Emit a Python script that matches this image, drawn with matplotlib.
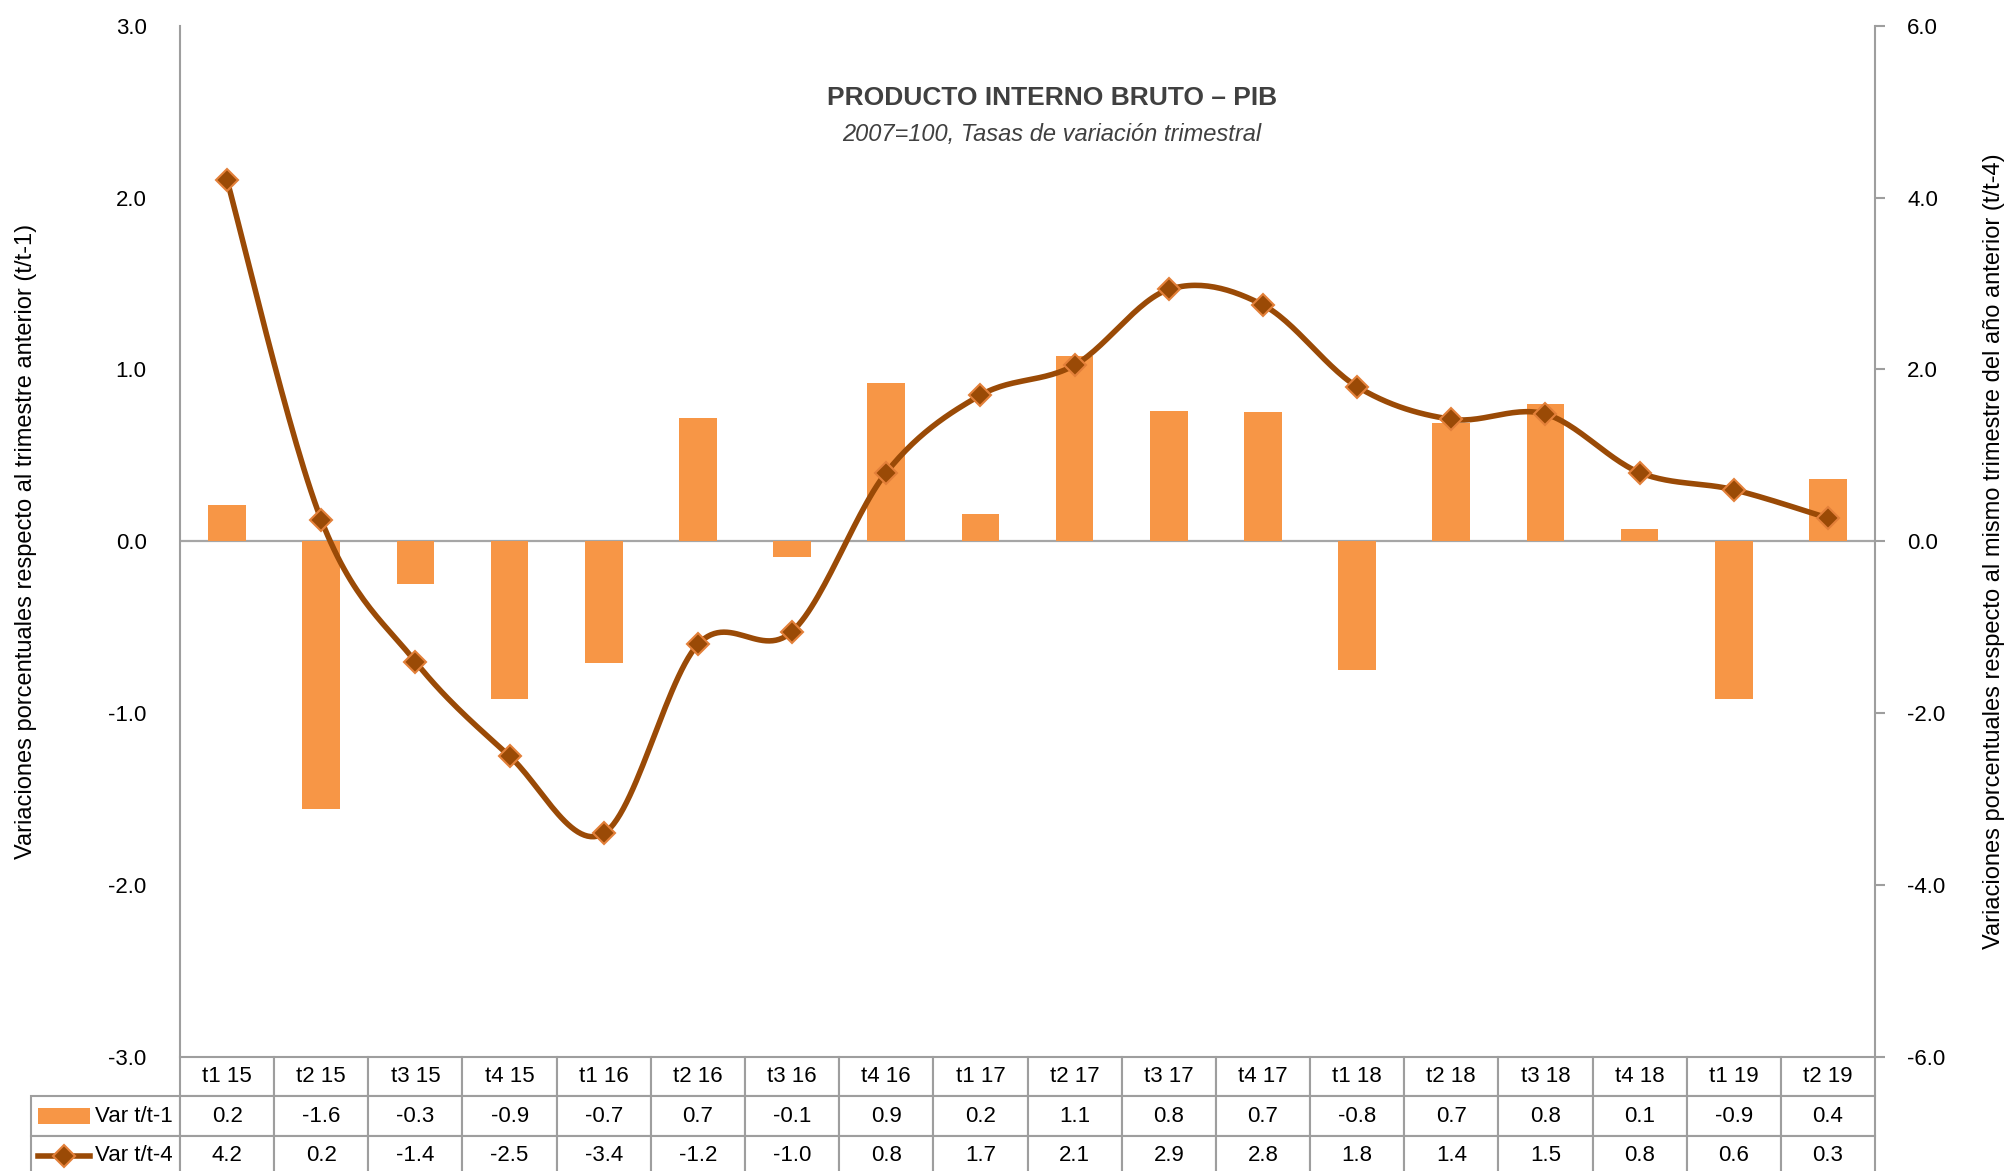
import numpy as np
import matplotlib
matplotlib.use("Agg")
import matplotlib.pyplot as plt
from matplotlib.lines import Line2D
from matplotlib.patches import Rectangle

# datos del grafico
trimestres = ["t1 15", "t2 15", "t3 15", "t4 15", "t1 16", "t2 16", "t3 16", "t4 16", "t1 17",
              "t2 17", "t3 17", "t4 17", "t1 18", "t2 18", "t3 18", "t4 18", "t1 19", "t2 19"]
var_t1 = [0.21, -1.56, -0.25, -0.92, -0.71, 0.72, -0.09, 0.92, 0.16,
          1.08, 0.76, 0.75, -0.75, 0.69, 0.80, 0.07, -0.92, 0.36]
var_t4 = [4.2, 0.25, -1.4, -2.5, -3.4, -1.2, -1.05, 0.8, 1.7,
          2.05, 2.93, 2.75, 1.8, 1.42, 1.48, 0.8, 0.6, 0.27]
# valores que se muestran en la tabla
tabla_t1 = ["0.2", "-1.6", "-0.3", "-0.9", "-0.7", "0.7", "-0.1", "0.9", "0.2",
            "1.1", "0.8", "0.7", "-0.8", "0.7", "0.8", "0.1", "-0.9", "0.4"]
tabla_t4 = ["4.2", "0.2", "-1.4", "-2.5", "-3.4", "-1.2", "-1.0", "0.8", "1.7",
            "2.1", "2.9", "2.8", "1.8", "1.4", "1.5", "0.8", "0.6", "0.3"]
series = ["Var t/t-1", "Var t/t-4"]
izq_ticks = [-3.0, -2.0, -1.0, 0.0, 1.0, 2.0, 3.0]
der_ticks = [-6.0, -4.0, -2.0, 0.0, 2.0, 4.0, 6.0]

c_barra = "#F79646"
c_linea = "#9A4A06"
c_borde = "#E3803A"
c_gris = "#9E9E9E"

plt.rcParams['font.family'] = ['Liberation Sans Narrow', 'Liberation Sans', 'DejaVu Sans']

fig = plt.figure(figsize=(20.11, 11.71), dpi=100)
ax = fig.add_axes([0.0895, 0.0974, 0.8429, 0.8807])
ax2 = ax.twinx()

x = np.arange(len(trimestres))

# barras t/t-1 (eje izquierdo)
ax.bar(x, var_t1, width=0.4, color=c_barra, zorder=2)
ax.axhline(0, color="#A6A6A6", lw=1.6, zorder=1)
ax.set_xlim(-0.5, len(trimestres) - 0.5)
ax.set_ylim(-3, 3)
ax.set_yticks(izq_ticks)
ax.set_yticklabels(["%.1f" % v for v in izq_ticks])
ax.set_xticks([])


# linea suavizada tipo excel (bezier entre puntos)
def suavizar(xs, ys, n=30):
    pts = np.column_stack([xs, ys]).astype(float)
    out = []
    for i in range(len(pts) - 1):
        p0 = pts[i - 1] if i > 0 else pts[i]
        p1 = pts[i]
        p2 = pts[i + 1]
        p3 = pts[i + 2] if i + 2 < len(pts) else pts[i + 1]
        c1 = p1 + (p2 - p0) / 6.0
        c2 = p2 - (p3 - p1) / 6.0
        t = np.linspace(0, 1, n)[:, None]
        seg = (1 - t) ** 3 * p1 + 3 * (1 - t) ** 2 * t * c1 + 3 * (1 - t) * t ** 2 * c2 + t ** 3 * p2
        out.append(seg if i == 0 else seg[1:])
    out = np.vstack(out)
    return out[:, 0], out[:, 1]


sx, sy = suavizar(x, var_t4)
ax2.plot(sx, sy, color=c_linea, lw=4, zorder=3, solid_capstyle="round")
ax2.plot(x, var_t4, ls="none", marker="D", ms=11, mfc=c_linea, mec=c_borde, mew=1.5, zorder=4)
ax2.set_ylim(-6, 6)
ax2.set_yticks(der_ticks)
ax2.set_yticklabels(["%.1f" % v for v in der_ticks])

# ejes y marcas
for s in ["top", "bottom", "right"]:
    ax.spines[s].set_visible(False)
for s in ["top", "bottom", "left"]:
    ax2.spines[s].set_visible(False)
ax.spines["left"].set_color(c_gris)
ax.spines["left"].set_linewidth(1.5)
ax2.spines["right"].set_color(c_gris)
ax2.spines["right"].set_linewidth(1.5)
ax.tick_params(axis="y", length=0, pad=24, labelsize=16)
ax2.tick_params(axis="y", length=7, width=1.5, color=c_gris, pad=16, labelsize=16)

# tabla de datos debajo del grafico
ancho_lbl = 149 / 1695.0
alto_fila = 39.5 / 1031.0
celdas = [[series[0]] + tabla_t1, [series[1]] + tabla_t4]
tabla = ax.table(cellText=celdas, colLabels=[""] + trimestres,
                 colWidths=[ancho_lbl] + [1.0 / len(trimestres)] * len(trimestres),
                 cellLoc="center",
                 bbox=[-ancho_lbl, -3 * alto_fila, 1 + ancho_lbl, 3 * alto_fila])
tabla.auto_set_font_size(False)
tabla.set_fontsize(16)
for (r, c), cell in tabla.get_celld().items():
    cell.set_edgecolor(c_gris)
    cell.set_linewidth(1.5)
    if r == 0 and c == 0:
        cell.visible_edges = ""
    if c == 0 and r > 0:
        cell._loc = "right"
        cell.PAD = 0.05
        cell.get_text().set_ha("right")

# muestras de leyenda dentro de la tabla
y1 = -1.5 * alto_fila
y2 = -2.5 * alto_fila
x0 = (38 - 180) / 1695.0
x1 = (90 - 180) / 1695.0
ax.add_patch(Rectangle((x0, y1 - 0.0078), x1 - x0, 0.0156, transform=ax.transAxes,
                       facecolor=c_barra, edgecolor="none", clip_on=False))
ax.add_line(Line2D([x0, x1], [y2, y2], transform=ax.transAxes, color=c_linea, lw=4, clip_on=False))
ax.add_line(Line2D([(x0 + x1) / 2], [y2], transform=ax.transAxes, marker="D", ms=11,
                   mfc=c_linea, mec=c_borde, mew=1.5, clip_on=False))

# titulos
fig.text(0.523, 0.916, "PRODUCTO INTERNO BRUTO – PIB", ha="center", va="center",
         fontsize=19, fontweight="bold", color="#404040")
fig.text(0.523, 0.885, "2007=100, Tasas de variación trimestral", ha="center", va="center",
         fontsize=17, style="italic", color="#404040")

fig.text(0.013, 0.538, "Variaciones porcentuales respecto al trimestre anterior (t/t-1)",
         rotation=90, ha="center", va="center", fontsize=17)
fig.text(0.9916, 0.529, "Variaciones porcentuales respecto al mismo trimestre del año anterior (t/t-4)",
         rotation=90, ha="center", va="center", fontsize=17)

fig.savefig("out.png", dpi=100)
